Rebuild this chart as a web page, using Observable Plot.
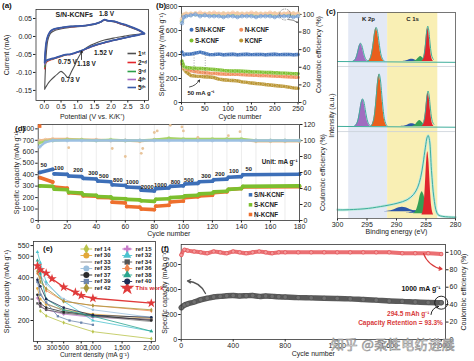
<!DOCTYPE html>
<html><head><meta charset="utf-8">
<script src="https://cdn.jsdelivr.net/npm/d3@7"></script>
<script src="https://cdn.jsdelivr.net/npm/@observablehq/plot@0.6"></script>
<style>
body{margin:0;background:#fff;}
#fig{position:relative;width:474px;height:361px;overflow:hidden;background:#fff;font-family:"Liberation Sans",Arial,sans-serif;}
.p{position:absolute;}
.p svg{overflow:visible;}
.wm{position:absolute;left:331px;top:334px;font-family:"Noto Sans CJK SC",sans-serif;font-size:13px;color:rgba(255,255,255,0.85);-webkit-text-stroke:0.6px #8a8a8a;letter-spacing:0.5px;white-space:nowrap;}
</style></head><body><div id="fig"></div>
<script>
// ================= DATA =================
// (a) cyclic voltammetry, 5 cycles
const cvCathV = [3.0,2.8,2.6,2.4,2.2,2.0,1.8,1.6,1.4,1.25,1.18,1.1,1.0,0.9,0.8,0.75,0.7,0.6,0.5,0.4,0.3,0.2,0.1,0.05,0.01];
const cvAnodV = [0.01,0.03,0.06,0.1,0.15,0.2,0.3,0.45,0.6,0.8,1.0,1.2,1.4,1.55,1.7,1.8,1.9,2.0,2.1,2.3,2.5,2.7,2.85,3.0];
const cvCath1 = [0.008,0.006,0.004,0.001,-0.002,-0.006,-0.010,-0.016,-0.024,-0.032,-0.037,-0.046,-0.062,-0.082,-0.100,-0.110,-0.114,-0.104,-0.097,-0.104,-0.112,-0.121,-0.132,-0.140,-0.147];
const cvCath2 = [0.008,0.004,0.000,-0.004,-0.008,-0.013,-0.018,-0.023,-0.029,-0.035,-0.038,-0.041,-0.044,-0.047,-0.050,-0.051,-0.051,-0.053,-0.056,-0.059,-0.062,-0.065,-0.069,-0.073,-0.090];
const cvCath3 = [0.008,0.004,0.000,-0.004,-0.008,-0.012,-0.017,-0.022,-0.028,-0.034,-0.037,-0.040,-0.043,-0.046,-0.049,-0.050,-0.050,-0.052,-0.055,-0.058,-0.061,-0.064,-0.067,-0.071,-0.085];
const cvCath4 = [0.008,0.004,0.000,-0.004,-0.008,-0.012,-0.017,-0.022,-0.028,-0.034,-0.037,-0.040,-0.043,-0.046,-0.049,-0.050,-0.050,-0.051,-0.054,-0.057,-0.060,-0.063,-0.066,-0.069,-0.079];
const cvCath5 = [0.008,0.004,0.000,-0.004,-0.008,-0.012,-0.017,-0.022,-0.028,-0.034,-0.037,-0.040,-0.043,-0.046,-0.049,-0.050,-0.050,-0.051,-0.054,-0.057,-0.060,-0.062,-0.065,-0.067,-0.073];
const cvAnod1 = [-0.147,-0.095,-0.045,-0.012,0.003,0.010,0.016,0.020,0.023,0.026,0.027,0.029,0.032,0.035,0.040,0.045,0.043,0.042,0.040,0.034,0.028,0.021,0.015,0.008];
const cvAnod2 = [-0.090,-0.050,-0.020,-0.002,0.009,0.015,0.020,0.023,0.025,0.027,0.028,0.030,0.033,0.036,0.041,0.046,0.044,0.043,0.041,0.035,0.029,0.022,0.016,0.008];
const cvAnod3 = [-0.085,-0.047,-0.018,-0.001,0.009,0.016,0.021,0.024,0.026,0.028,0.029,0.030,0.033,0.036,0.041,0.047,0.044,0.043,0.042,0.036,0.030,0.023,0.017,0.008];
const cvAnod4 = [-0.079,-0.043,-0.016,0.000,0.010,0.016,0.021,0.024,0.026,0.028,0.029,0.030,0.033,0.036,0.041,0.047,0.044,0.043,0.042,0.036,0.030,0.023,0.017,0.008];
const cvAnod5 = [-0.073,-0.040,-0.015,0.000,0.010,0.016,0.021,0.024,0.026,0.028,0.029,0.030,0.033,0.036,0.041,0.047,0.044,0.043,0.042,0.036,0.030,0.023,0.017,0.008];
const cvNames = ["1ˢᵗ","2ⁿᵈ","3ʳᵈ","4ᵗʰ","5ᵗʰ"];

// (b) cycling at 50 mA g-1
const bCycles = [1,5,10,20,30,40,50,60,70,80,90,100,110,120,130,140,150,160,170,180,190,200,210,220,230,240,250];
const bSN = [420,398,402,404,412,420,410,399,400,403,398,400,402,398,400,402,399,400,401,398,400,402,399,400,401,398,400];
const bS  = [345,300,292,288,285,283,281,278,275,272,268,265,263,262,260,258,256,255,253,251,250,248,246,245,243,241,240];
const bN  = [320,295,280,265,258,252,248,245,243,240,238,236,235,234,232,230,229,227,225,224,222,220,218,216,214,212,210];
const bK  = [330,280,255,225,220,218,215,212,208,195,190,185,183,180,172,168,162,158,155,150,146,142,138,134,128,122,118];
const bCeSN = [90,97,98,99,100,98,99,98,98,98,97,98,98,97,98,98,98,97,98,98,98,97,98,98,98,97,98];
const bCeN  = [95,100,101,101,101,102,101,101,102,101,101,101,102,101,101,101,102,101,101,101,102,101,101,101,102,101,101];
const bCeS  = [93,99,100,100,100,100,100,100,100,100,100,100,100,100,100,100,100,100,100,100,100,100,100,100,100,100,100];
const bCeK  = [92,99,100,100,101,100,100,101,100,100,101,100,100,101,100,100,100,101,100,100,100,101,100,100,100,101,100];
const bNames = ["S/N-KCNF","N-KCNF","S-KCNF","KCNF"];

// (c) XPS: fitted components [name, centre eV, height, sigma eV]
const xpsProfile = [[-3,0],[-2.5,0.044],[-2,0.135],[-1.5,0.325],[-1,0.607],[-0.5,0.882],[0,1],[0.5,0.882],[1,0.607],[1.5,0.325],[2,0.135],[2.5,0.044],[3,0]];
const xpsTopPeaks = [["K2p1/2",296.1,8.6,0.42],["K2p3/2",293.45,16.3,0.45],["C=O",287.4,1.1,0.6],["C-O",285.9,2.4,0.45],["C-C",284.7,16.2,0.32]];
const xpsMidPeaks = [["K2p1/2",295.75,13.1,0.45],["K2p3/2",292.95,25.2,0.45],["C=O",287.4,1.3,0.6],["C-O",286.05,2.9,0.45],["C-C",284.65,16.2,0.33]];
const xpsBotPeaks = [["O-C=O",289.0,2.2,1.1,3.3],["C=O",286.8,1.2,0.5,2.6],["C-N",285.1,0.8,0.3,2.2],["C-O",285.65,10.7,0.5,2.3],["C-C",284.7,30.7,0.33,1.7]];
const xpsBaselines = [76.2, 44.7];
const xpsBotEnvelope = [[300,4.3],[299.8,4.2],[295.5,4.7],[292.7,5.8],[289.9,7.4],[288.2,9.1],[287.1,11.7],[286.4,15.2],[285.9,20],[285.5,26.5],[285.1,34.6],[284.8,39.5],[284.63,40.3],[284.4,37.9],[284.07,23.3],[283.67,10.3],[283.2,3.1],[282.8,1.5],[280,0.6]];
const xpsSeparators = [73.8, 42.2];

// (d) rate capability: each step [start cycle, end cycle]
const dStepStart = [1,11,21,31,41,51,61,71,81,91,101,111,121,131,141];
const dStepEnd   = [10,20,30,40,50,60,70,80,90,100,110,120,130,140,180];
const dRates = ["50","100","200","300","500","800","1000","2000","1000","800","500","300","200","100","50"];
const dSNa = [420,407,388,368,345,312,293,265,278,298,318,338,356,377,400];
const dSNb = [447,403,383,362,338,306,287,258,284,303,324,343,361,383,404];
const dSa  = [302,274,246,225,209,194,184,172,185,200,215,232,250,272,298];
const dSb  = [298,268,240,220,205,190,180,167,190,206,221,238,256,279,302];
const dNa  = [375,292,242,216,202,160,122,100,125,162,200,214,242,270,292];
const dNb  = [336,282,235,212,198,153,116,95,133,170,207,221,251,280,296];
const dCeCycles = [1,5,10,20,30,40,50,60,70,80,90,100,110,120,130,140,150,160,170,180];
const dCeSN = [92,98,100,100,100,100,100,100,100,100,100,100,100,100,100,100,100,100,100,100];
const dCeS  = [97,99,100,101,101,100,101,100,100,101,103,102,102,102,102,102,100,100,100,100];
const dCeN  = [100,101,102,102,101,101,100,100,99,101,102,101,101,101,101,101,99,99,99,99];
const dCeNOutliers = [[1,118],[21,91],[51,90],[60,80],[71,84],[72,90],[80,110],[82,112],[91,119],[99,117],[100,112],[110,104],[131,106],[139,111]];
const dGrid = [10,20,30,40,50,60,70,80,90,100,110,120,130,140,150,160,170];

// (e) comparison with literature: [current density, capacity]
const eRef14 = [[100,245],[200,222],[500,190],[1000,148],[2000,115]];
const eRef15 = [[50,305],[100,270],[200,250],[500,230],[1000,215],[2000,205]];
const eRef30 = [[50,350],[100,300],[200,275],[500,250],[1000,230],[2000,210]];
const eRef32 = [[50,520],[100,470],[200,380],[500,290],[1000,200],[2000,150]];
const eRef33 = [[50,400],[100,330],[200,280],[500,245],[1000,220],[2000,195]];
const eRef34 = [[50,280],[100,265],[200,250],[500,235],[1000,220],[2000,205]];
const eRef35 = [[50,450],[100,410],[200,370],[500,300],[1000,250],[2000,215]];
const eRef36 = [[50,420],[100,400],[200,340],[500,290],[1000,270],[2000,245]];
const eRef37 = [[50,320],[100,280],[200,260],[500,240],[1000,225],[2000,200]];
const eRef38 = [[50,480],[100,420],[200,300],[500,250],[1000,220],[2000,150]];
const eRef39 = [[50,380],[100,320],[200,285],[400,220],[600,200],[800,190],[1000,180]];
const eRef40 = [[50,390],[100,360],[200,300],[500,260],[1000,225],[2000,215]];
const eRef42 = [[50,430],[100,380],[200,350],[500,290],[1000,270],[2000,250]];
const eThisWork = [[50,455],[100,437],[200,421],[300,395],[500,356],[700,332],[800,317],[1000,304],[2000,281]];
const eLeftNames = ["ref 14","ref 30","ref 33","ref 35","ref 37","ref 39","ref 42"];
const eRightNames = ["ref 15","ref 32","ref 34","ref 36","ref 38","ref 40","This work"];
const eXTicks = [50,300,500,800,1000,1500,2000];
const eYTicks = [200,300,400,500,550];

// (f) long cycling at 1000 mA g-1
const fCycles = [1,25,50,100,150,200,250,300,350,400,450,500,550,600,650,700,750,800,900,1000,1100,1200,1300,1400,1500,1600,1700,1800,1900,2000];
const fCap = [255,275,285,300,318,330,340,345,350,352,348,350,352,345,348,345,342,340,335,333,330,328,325,320,315,308,305,300,296,294.5];
const fCE  = [97,103,102,101,100,99,101,100,99,101,100,99,100,101,100,99,100,100,100,100,100,100,100,100,100,100,99,99,99,98];

// ================= DRAWING =================
const FONT = '"Liberation Sans", Arial, Helvetica, sans-serif';
const fig = document.getElementById("fig");
const TXT = "#222";
function geom(o){
  o.ml = o.fx1 - o.left; o.mr = o.left + o.w - o.fx2; o.mt = o.fy1 - o.top; o.mb = o.top + o.h - o.fy2;
  o.X = px => o.xd[0] + (px - o.fx1) / (o.fx2 - o.fx1) * (o.xd[1] - o.xd[0]);
  o.Y = py => o.yd[1] - (py - o.fy1) / (o.fy2 - o.fy1) * (o.yd[1] - o.yd[0]);
  if (o.yd2) o.Y2 = py => o.yd2[1] - (py - o.fy1) / (o.fy2 - o.fy1) * (o.yd2[1] - o.yd2[0]);
  // axis-title offsets from desired title centres (page px)
  o.offB = c => c + 3.5 - o.fy2;
  o.offL = c => o.fx1 - (c - 3.5);
  o.offR = c => c + 3.5 - o.fx2;
  return o;
}
function put(node, g){ const d = document.createElement("div"); d.className = "p"; d.style.left = g.left + "px"; d.style.top = g.top + "px"; d.appendChild(node); fig.appendChild(d); }
function mk(g, yd, marks, xAxisNull){
  return Plot.plot({width:g.w, height:g.h, marginLeft:g.ml, marginRight:g.mr, marginTop:g.mt, marginBottom:g.mb,
    style:{fontFamily:FONT, fontSize:"7px", background:"transparent", overflow:"visible", color:TXT},
    x: xAxisNull ? {domain:g.xd, axis:null} : {domain:g.xd},
    y: {domain:yd}, marks});
}
const AX = {tickSize:2.5, tickPadding:1.5, labelArrow:"none", labelAnchor:"center"};
const frame = () => Plot.frame({stroke:"#333", strokeWidth:0.8});
function txt(g, list, opts={}){ return Plot.text(list.map(d => ({x:g.X(d[0]), y:(d[3]==="r" ? g.Y2 : g.Y)(d[1]), t:d[2]})), {x:"x", y:"y", text:"t", fill:TXT, fontSize:6.5, fontWeight:"bold", ...opts}); }
function arrow(g, a, opts={}){ return Plot.arrow([{x1:g.X(a[0]), y1:g.Y(a[1]), x2:g.X(a[2]), y2:g.Y(a[3])}], {x1:"x1", y1:"y1", x2:"x2", y2:"y2", stroke:"#222", strokeWidth:0.8, headLength:4, ...opts}); }

// ---------- (a)
{
  const g = geom({left:0, top:0, w:160, h:118, fx1:35.5, fx2:148, fy1:9, fy2:100, xd:[-0.25,3.12], yd:[-0.178,0.075]});
  const cath = [cvCath1,cvCath2,cvCath3,cvCath4,cvCath5], anod = [cvAnod1,cvAnod2,cvAnod3,cvAnod4,cvAnod5];
  const colors = ["#505050","#e3262b","#2ca048","#a86ac4","#3a5aa8"];
  const marks = [];
  cath.forEach((arr, k) => {
    const rows = cvCathV.map((v,i) => ({v, i:arr[i]})).concat(cvAnodV.map((v,j) => ({v, i:anod[k][j]})));
    marks.push(Plot.line(rows, {x:"v", y:"i", stroke:colors[k], strokeWidth:k===4?1.8:1.1, curve:"catmull-rom"}));
  });
  const rowsY = [53,62,71,79,87];
  const leg = cvNames.map((n,k) => ({x1:g.X(127), x2:g.X(135.5), y:g.Y(rowsY[k]), tx:g.X(137.5), n}));
  put(mk(g, g.yd, [
    Plot.axisX({...AX, ticks:[0,0.5,1,1.5,2,2.5,3], tickFormat:d=>d.toFixed(1), label:"Potential (V vs. K/K⁺)", labelOffset:g.offB(114.5)}),
    Plot.axisY({...AX, ticks:[0.05,0,-0.05,-0.1,-0.15], tickFormat:d=>d.toFixed(2), label:"Current (mA)", labelOffset:g.offL(7.5)}),
    ...marks,
    Plot.link(leg, {x1:"x1", x2:"x2", y1:"y", y2:"y", stroke:(d,i)=>colors[i], strokeWidth:1.6}),
    Plot.text(leg, {x:"tx", y:"y", text:"n", textAnchor:"start", fontSize:6.5, fontWeight:"bold", fill:TXT}),
    txt(g, [[55,14.5,"S/N-KCNFs"]], {textAnchor:"start", fontSize:7}),
    txt(g, [[106,13,"1.8 V"],[103,52.5,"1.52 V"],[86,63.5,"1.18 V"],[67,61,"0.75 V"],[70,79.5,"0.73 V"]]),
    arrow(g, [81,59,81,50.5]),
    frame()
  ]), g);
}

// ---------- (b)
{
  const g = geom({left:150, top:0, w:185, h:118, fx1:181, fx2:298, fy1:6, fy2:102, xd:[0,251], yd:[0,800], yd2:[0,109]});
  const cols = ["#3d6fb8","#f08c5a","#7cbf2e","#b99430"];
  const light = ["#8fb2dc","#f8c8a6","#b8dc8c","#dcc48a"];
  const caps = [bSN,bN,bS,bK], ces = [bCeSN,bCeN,bCeS,bCeK];
  const order = [3,1,2,0];
  const capMarks = [], ceMarks = [];
  order.forEach(k => {
    const rows = bCycles.map((c,i) => ({c, v:caps[k][i]}));
    capMarks.push(Plot.line(rows, {x:"c", y:"v", stroke:cols[k], strokeWidth:3.4, curve:"linear"}));
    capMarks.push(Plot.dot(rows, {x:"c", y:"v", r:1.7, fill:cols[k], stroke:"#fff", strokeWidth:0.3}));
  });
  [3,2,1,0].forEach(k => {
    const rows = bCycles.map((c,i) => ({c, v:ces[k][i]}));
    ceMarks.push(Plot.line(rows, {x:"c", y:"v", stroke:light[k], strokeWidth:2.2}));
    ceMarks.push(Plot.dot(rows, {x:"c", y:"v", r:1.8, stroke:k===0?"#6f9ad0":light[k], strokeWidth:0.7, fill:"none"}));
  });
  const legPos = [[191,29.3],[240.7,29.3],[191,40],[240.7,40]];
  const leg = bNames.map((n,k) => ({x:g.X(legPos[k][0]), y:g.Y(legPos[k][1]), tx:g.X(legPos[k][0]+3.5), n, k}));
  put(mk(g, g.yd, [
    Plot.axisX({...AX, ticks:[0,50,100,150,200,250], label:"Cycle number", labelOffset:g.offB(114.5)}),
    Plot.axisY({...AX, ticks:[0,200,400,600,800], label:"Specific capacity (mAh g⁻¹)", labelOffset:g.offL(162.5)}),
    ...capMarks,
    Plot.dot(leg, {x:"x", y:"y", r:2, fill:d=>cols[d.k]}),
    Plot.text(leg, {x:"tx", y:"y", text:"n", textAnchor:"start", fontSize:6.3, fontWeight:"bold", fill:TXT}),
    txt(g, [[187,93,"50 mA g⁻¹"]], {textAnchor:"start", fontSize:6}),
    arrow(g, [189,86.5,199,79.5], {bend:-25}),
    Plot.ruleX([27,51], {y1:g.Y(55), y2:g.Y(75), stroke:"#555", strokeWidth:0.5, strokeDasharray:"1,1.5"}),
    frame()
  ]), g);
  put(mk(g, g.yd2, [
    Plot.axisY({...AX, anchor:"right", ticks:[0,20,40,60,80,100], label:"Coulombic efficiency (%)", labelOffset:g.offR(317)}),
    ...ceMarks,
    Plot.dot([{x:g.X(284.5), y:g.Y2(14)}], {x:"x", y:"y", r:5.5, stroke:"#555", strokeWidth:0.6, strokeDasharray:"1.5,1", fill:"none"}),
    Plot.arrow([{x1:g.X(288), y1:g.Y2(19), x2:g.X(297), y2:g.Y2(22)}], {x1:"x1", y1:"y1", x2:"x2", y2:"y2", stroke:"#333", strokeWidth:0.6, headLength:3, bend:20})
  ], true), g);
}

// ---------- (c)
{
  const g = geom({left:330, top:0, w:144, h:240, fx1:337, fx2:455, fy1:12, fy2:218, xd:[300,280], yd:[0,100]});
  const pc = {"K2p1/2":"#a06cc0","K2p3/2":"#ea5f1c","C=O":"#2d56a8","C-O":"#36a055","C-C":"#e0262c","O-C=O":"#2d56a8","C-N":"#e77fb5"};
  const env = "#3fae9c";
  const marks = [
    Plot.rect([{a:298.1,b:291.5}], {x1:"a", x2:"b", fill:"#e3e9f5"}),
    Plot.rect([{a:291.5,b:283}], {x1:"a", x2:"b", fill:"#f9efb4"}),
    Plot.ruleY(xpsSeparators, {stroke:"#c9d0d8", strokeWidth:0.8})
  ];
  [xpsTopPeaks, xpsMidPeaks].forEach((peaks, s) => {
    const base = xpsBaselines[s];
    peaks.forEach(p => {
      const rows = xpsProfile.map(([o,r]) => ({e:p[1]+o*p[3], lo:base, hi:base+p[2]*r}));
      marks.push(Plot.areaY(rows, {x:"e", y1:"lo", y2:"hi", fill:pc[p[0]], curve:"catmull-rom"}));
    });
    peaks.forEach(p => {
      if (p[2] < 5) return;
      const rows = xpsProfile.map(([o,r]) => ({e:p[1]+o*p[3], hi:base+p[2]*r + (p[0]==="C-C"?1:0.3)}));
      marks.push(Plot.line(rows, {x:"e", y:"hi", stroke:env, strokeWidth:1, curve:"catmull-rom"}));
    });
    marks.push(Plot.line([[300,base],[280,base-0.4]], {x:d=>d[0], y:d=>d[1], stroke:env, strokeWidth:1}));
  });
  xpsBotPeaks.forEach(p => {
    const rows = xpsProfile.map(([o,r]) => ({e:p[1]+o*p[3], lo:p[4], hi:p[4]+p[2]*r}));
    marks.push(Plot.areaY(rows, {x:"e", y1:"lo", y2:"hi", fill:pc[p[0]], curve:"catmull-rom"}));
  });
  marks.push(Plot.line(xpsBotEnvelope, {x:d=>d[0], y:d=>d[1], stroke:"#bfe9df", strokeWidth:2.6, curve:"catmull-rom"}));
  marks.push(Plot.line(xpsBotEnvelope, {x:d=>d[0], y:d=>d[1], stroke:env, strokeWidth:1, curve:"catmull-rom"}));
  put(mk(g, g.yd, [
    ...marks,
    Plot.axisX({...AX, ticks:[300,295,290,285,280], label:"Binding energy (eV)", labelOffset:g.offB(230)}),
    Plot.axisY({ticks:[], tickSize:0, label:"Intensity (a.u.)", labelAnchor:"center", labelArrow:"none", labelOffset:g.offL(332)}),
    txt(g, [[368,18.5,"K 2p"],[412,18.5,"C 1s"]], {fontSize:6}),
    Plot.frame({stroke:"#555", strokeWidth:0.8})
  ]), g);
}

// ---------- (d)
{
  const g = geom({left:0, top:118, w:335, h:122, fx1:37.7, fx2:299, fy1:124, fy2:220, xd:[0,180], yd:[0,838], yd2:[0,120]});
  const cols = {sn:"#3d6fb8", s:"#7cbf2e", n:"#ee6f2d"};
  const steps = (a, b) => dStepStart.map((s,i) => ({x1:s, x2:dStepEnd[i], y1:a[i], y2:b[i]}));
  const stepMarks = (a, b, c) => [
    Plot.link(steps(a,b), {x1:"x1", x2:"x2", y1:"y1", y2:"y2", stroke:c, strokeWidth:3.6, strokeLinecap:"round"}),
    Plot.dot(steps(a,b), {x:"x1", y:"y1", r:1.9, fill:c}),
    Plot.dot(steps(a,b), {x:"x2", y:"y2", r:1.9, fill:c})
  ];
  const labPos = [[43.3,165],[58.3,167.3],[77.7,170],[92.7,172.3],[103.3,175.7],[117.3,179.3],[131.7,181.7],[146.7,186.7],[160,184.3],[175,181.7],[188.3,179.3],[205.7,176],[219.3,173.3],[233.3,170.7],[248.3,168.3]];
  const legN = [["S/N-KCNF",194.3,cols.sn],["S-KCNF",204.3,cols.s],["N-KCNF",214,cols.n]];
  put(mk(g, g.yd, [
    Plot.ruleX(dGrid, {stroke:"#d9d9d9", strokeWidth:0.5}),
    Plot.axisX({...AX, ticks:[0,20,40,60,80,100,120,140,160,180], label:"Cycle number", labelOffset:g.offB(232.3)}),
    Plot.axisY({...AX, ticks:[0,100,200,300,400,500,600,700,800], label:"Specific capacity (mAh g⁻¹)", labelOffset:g.offL(17.3)}),
    ...stepMarks(dNa, dNb, cols.n),
    ...stepMarks(dSa, dSb, cols.s),
    ...stepMarks(dSNa, dSNb, cols.sn),
    Plot.text(dRates.map((r,i) => ({x:g.X(labPos[i][0]), y:g.Y(labPos[i][1]), r})), {x:"x", y:"y", text:"r", fontSize:5.8, fontWeight:"bold", fill:TXT}),
    txt(g, [[297,161.7,"Unit: mA g⁻¹"]], {textAnchor:"end", fontSize:6.3}),
    Plot.dot(legN, {x:g.X(250), y:d=>g.Y(d[1]), r:2, fill:d=>d[2], symbol:"square"}),
    Plot.text(legN, {x:g.X(253.5), y:d=>g.Y(d[1]), text:d=>d[0], textAnchor:"start", fontSize:6.3, fontWeight:"bold", fill:TXT}),
    frame()
  ]), g);
  const ceMarks = [];
  [[dCeN,"#efbb8f"],[dCeS,"#a8d46a"],[dCeSN,"#9cc0e2"]].forEach(([arr,c]) => {
    const rows = dCeCycles.map((x,i) => ({x, v:arr[i]}));
    ceMarks.push(Plot.line(rows, {x:"x", y:"v", stroke:c, strokeWidth:2.4}));
    ceMarks.push(Plot.dot(rows, {x:"x", y:"v", r:1.5, stroke:c, strokeWidth:0.6, fill:"none"}));
  });
  put(mk(g, g.yd2, [
    Plot.axisY({...AX, anchor:"right", ticks:[0,20,40,60,80,100,120], label:"Coulombic efficiency (%)", labelOffset:g.offR(321)}),
    ...ceMarks,
    Plot.dot(dCeNOutliers, {x:d=>d[0], y:d=>d[1], r:1.4, fill:"#e8c49a"}),
    Plot.dot([[1,118]], {x:d=>d[0], y:d=>d[1], r:2, fill:"#ee6f2d", symbol:"square"})
  ], true), g);
}

// ---------- (e)
{
  const g = geom({left:0, top:235, w:160, h:126, fx1:33, fx2:155, fy1:241, fy2:341, xd:[-17,2072], yd:[102,569]});
  const series = [
    ["ref 14",eRef14,"#b9c34a","diamond"],["ref 15",eRef15,"#c77cc9","cross"],["ref 30",eRef30,"#e3a83a","circle"],
    ["ref 32",eRef32,"#4cc3cf","triangle"],["ref 33",eRef33,"#8a8a8a","times"],["ref 34",eRef34,"#555555","square"],
    ["ref 35",eRef35,"#9cbfdc","circle"],["ref 36",eRef36,"#f0874f","diamond"],["ref 37",eRef37,"#2b2b2b","circle"],
    ["ref 38",eRef38,"#2aa58e","triangle"],["ref 39",eRef39,"#6d86ad","square"],["ref 40",eRef40,"#1f2d55","circle"],
    ["ref 42",eRef42,"#a8973a","diamond"],["This work",eThisWork,"#e03a3a","star"]
  ];
  const byName = Object.fromEntries(series.map(s => [s[0], s]));
  const marks = [];
  series.forEach(([n,d,c,sym]) => {
    const w = n === "This work";
    marks.push(Plot.line(d, {x:p=>p[0], y:p=>p[1], stroke:c, strokeWidth:w?1.4:0.8}));
    marks.push(Plot.dot(d, {x:p=>p[0], y:p=>p[1], r:w?3:1.3, fill:c, symbol:sym}));
  });
  const legRows = [];
  eLeftNames.forEach((n,i) => legRows.push({n, x1:80, x2:91.7, tx:94, y:248.5+6.5*i}));
  eRightNames.forEach((n,i) => legRows.push({n, x1:121.7, x2:131.7, tx:135, y:248.5+6.5*i}));
  const L = legRows.map(r => ({n:r.n, x1:g.X(r.x1), x2:g.X(r.x2), xm:g.X((r.x1+r.x2)/2), tx:g.X(r.tx), y:g.Y(r.y), c:byName[r.n][2], s:byName[r.n][3]}));
  put(mk(g, g.yd, [
    Plot.axisX({...AX, ticks:eXTicks, fontSize:6.5, label:"Current density (mA g⁻¹)", labelOffset:g.offB(353.3)}),
    Plot.axisY({...AX, ticks:eYTicks, label:"Specific capacity (mAh g⁻¹)", labelOffset:g.offL(7.3)}),
    ...marks,
    Plot.link(L, {x1:"x1", x2:"x2", y1:"y", y2:"y", stroke:"c", strokeWidth:0.9}),
    Plot.dot(L, {x:"xm", y:"y", r:d=>d.n==="This work"?3:1.3, fill:"c", symbol:"s"}),
    Plot.text(L, {x:"tx", y:"y", text:"n", textAnchor:"start", fontSize:6, fontWeight:"bold", fill:d=>d.n==="This work"?"#d62a2a":TXT}),
    frame()
  ]), g);
}

// ---------- (f)
{
  const g = geom({left:160, top:235, w:314, h:126, fx1:180.7, fx2:445, fy1:244, fy2:339, xd:[0,2033], yd:[0,760], yd2:[0,109]});
  const cap = fCycles.map((c,i) => ({c, v:fCap[i]}));
  const ce = fCycles.map((c,i) => ({c, v:fCE[i]}));
  put(mk(g, g.yd, [
    Plot.axisX({...AX, ticks:[0,400,800,1200,1600,2000], label:"Cycle number", labelOffset:g.offB(352.3)}),
    Plot.axisY({...AX, ticks:[0,200,400,600], label:"Specific capacity (mAh g⁻¹)", labelOffset:g.offL(165)}),
    Plot.line(cap, {x:"c", y:"v", stroke:"#5a5a5a", strokeWidth:5.5, curve:"catmull-rom"}),
    Plot.dot(cap, {x:"c", y:"v", r:2.2, fill:"#707070", stroke:"#444", strokeWidth:0.4}),
    Plot.dot([{c:2000, v:294.5}], {x:"c", y:"v", r:6.5, stroke:"#111", strokeWidth:0.9, fill:"none"}),
    arrow(g, [205,293,187,280.5], {bend:-30, stroke:"#555", strokeWidth:1.3}),
    arrow(g, [430.5,314,438,306], {bend:40, stroke:"#111", strokeWidth:0.9, headLength:3}),
    txt(g, [[440,288,"1000 mA g⁻¹"]], {textAnchor:"end", fontSize:7, fill:"#111"}),
    txt(g, [[429,313.5,"294.5 mAh g⁻¹"]], {textAnchor:"end", fontSize:6.5, fill:"#d83a3a"}),
    txt(g, [[400,322.7,"Capacity Retention = 93.3%"]], {fontSize:6.5, fill:"#d83a3a"}),
    frame()
  ]), g);
  put(mk(g, g.yd2, [
    Plot.axisY({...AX, anchor:"right", ticks:[0,20,40,60,80,100], label:"Coulombic efficiency (%)", labelOffset:g.offR(461.7)}),
    Plot.line(ce, {x:"c", y:"v", stroke:"#e8575a", strokeWidth:4, strokeOpacity:0.85, curve:"catmull-rom"}),
    Plot.dot(ce, {x:"c", y:"v", r:1.8, stroke:"#e04a4e", strokeWidth:0.6, fill:"#f29a9c"}),
    Plot.arrow([{x1:g.X(423), y1:g.Y2(253), x2:g.X(441.5), y2:g.Y2(268.5)}], {x1:"x1", y1:"y1", x2:"x2", y2:"y2", stroke:"#d83a3a", strokeWidth:1.2, headLength:4, bend:-30})
  ], true), g);
}

// ---------- panel letters & watermark
[["(a)",2,8],["(b)",156,8],["(c)",326,14],["(d)",15,131],["(e)",43,251],["(f)",161,251]].forEach(([t,x,y]) => {
  const d = document.createElement("div");
  d.textContent = t;
  d.style.cssText = `position:absolute;left:${x}px;top:${y-7}px;font:bold 8px ${FONT};color:#111;`;
  fig.appendChild(d);
});
const wm = document.createElement("div"); wm.className = "wm"; wm.textContent = "知乎 @柔性电纺进展"; fig.appendChild(wm);
</script></body></html>
